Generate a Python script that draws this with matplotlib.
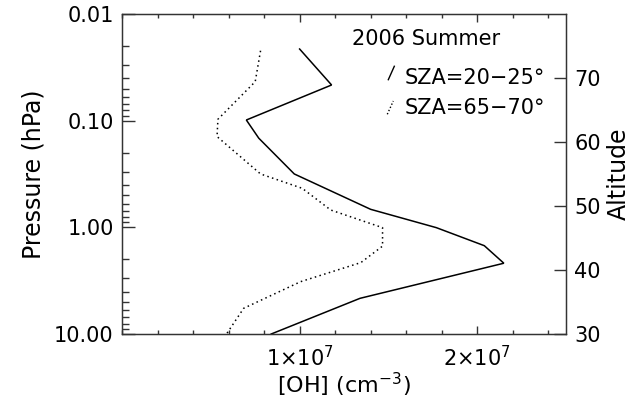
"""OH profiles, 2006 summer: [OH] vs pressure for two solar zenith angle bins."""

import matplotlib
matplotlib.use("Agg")
import matplotlib.pyplot as plt
from matplotlib.ticker import FixedLocator, NullFormatter, NullLocator, LogLocator

plt.rcParams["font.family"] = ["DejaVu Sans"]
plt.rcParams["mathtext.fontset"] = "dejavusans"

# SZA = 20-25 deg (solid)
p_sza20 = [0.0213, 0.0463, 0.0986, 0.146, 0.316, 0.678, 1.007, 1.486, 2.17, 4.63, 10.0]
oh_sza20 = [1.00e7, 1.18e7, 0.70e7, 0.77e7, 0.97e7, 1.40e7, 1.77e7, 2.04e7, 2.15e7, 1.34e7, 0.84e7]

# SZA = 65-70 deg (dotted)
p_sza65 = [0.0221, 0.0431, 0.097, 0.141, 0.316, 0.431, 0.688, 1.007, 1.50, 2.14, 3.23, 5.74, 9.9]
oh_sza65 = [0.78e7, 0.75e7, 0.54e7, 0.535e7, 0.78e7, 1.015e7, 1.175e7, 1.467e7, 1.467e7,
            1.345e7, 1.006e7, 0.685e7, 0.59e7]

p_ticks = [0.01, 0.1, 1.0, 10.0]
p_labels = ["0.01", "0.10", "1.00", "10.00"]
oh_ticks = [1e7, 2e7]
oh_labels = [r"1$\times$10$^{7}$", r"2$\times$10$^{7}$"]
alt_ticks = [30, 40, 50, 60, 70]

AX_COL = "#333333"
FS = 15      # tick labels and legend
FS_LAB = 17  # axis titles

fig = plt.figure(figsize=(6.30, 4.03), dpi=100)
ax = fig.add_axes([0.1937, 0.1712, 0.7047, 0.7941])

ax.plot(oh_sza20, p_sza20, color="black", lw=1.1, solid_joinstyle="miter")
ax.plot(oh_sza65, p_sza65, color="black", lw=1.1, linestyle=(0, (1, 2.2)))

ax.set_yscale("log")
ax.set_ylim(10, 0.01)
ax.set_xlim(0, 2.5e7)

ax.yaxis.set_major_locator(FixedLocator(p_ticks))
ax.set_yticklabels(p_labels)
ax.yaxis.set_minor_locator(LogLocator(base=10, subs=range(2, 10)))
ax.yaxis.set_minor_formatter(NullFormatter())

ax.xaxis.set_major_locator(FixedLocator(oh_ticks))
ax.set_xticklabels(oh_labels)
ax.xaxis.set_minor_locator(FixedLocator([i * 2e6 for i in range(13)]))

ax.tick_params(axis="both", which="both", direction="in", colors=AX_COL,
               labelcolor="black", labelsize=FS, width=1.0)
ax.tick_params(axis="x", which="both", top=True)
ax.tick_params(axis="x", which="major", length=6, pad=8)
ax.tick_params(axis="x", which="minor", length=3)
ax.tick_params(axis="y", which="major", length=9, pad=6)
ax.tick_params(axis="y", which="minor", length=5)
for s in ax.spines.values():
    s.set_color(AX_COL)
    s.set_linewidth(1.0)

ax.set_ylabel("Pressure (hPa)", fontsize=FS_LAB, labelpad=6)
ax.set_xlabel("[OH] (cm$^{-3}$)", fontsize=FS_LAB - 1, labelpad=0)

# right-hand altitude axis
ax2 = ax.twinx()
ax2.set_ylim(30, 80)
ax2.yaxis.set_major_locator(FixedLocator(alt_ticks))
ax2.yaxis.set_minor_locator(NullLocator())
ax2.tick_params(axis="y", direction="in", length=9, width=1.0, colors=AX_COL,
                labelcolor="black", labelsize=FS, pad=6)
for s in ax2.spines.values():
    s.set_color(AX_COL)
ax2.set_ylabel("Altitude", fontsize=FS_LAB, labelpad=4)

# title and hand-drawn IDL-style legend
ax.text(0.517, 0.922, "2006 Summer", transform=ax.transAxes, fontsize=FS,
        ha="left", va="center")
ax.plot([0.5998, 0.6133], [0.7947, 0.8366], transform=ax.transAxes,
        color="black", lw=1.0)
ax.text(0.637, 0.799, "SZA=20−25°", transform=ax.transAxes, fontsize=FS,
        ha="left", va="center")
ax.plot([0.5975, 0.6110], [0.6866, 0.7281], transform=ax.transAxes,
        color="black", lw=1.0, linestyle=(0, (1, 1.5)))
ax.text(0.637, 0.705, "SZA=65−70°", transform=ax.transAxes, fontsize=FS,
        ha="left", va="center")

fig.savefig("out.png", dpi=100)
